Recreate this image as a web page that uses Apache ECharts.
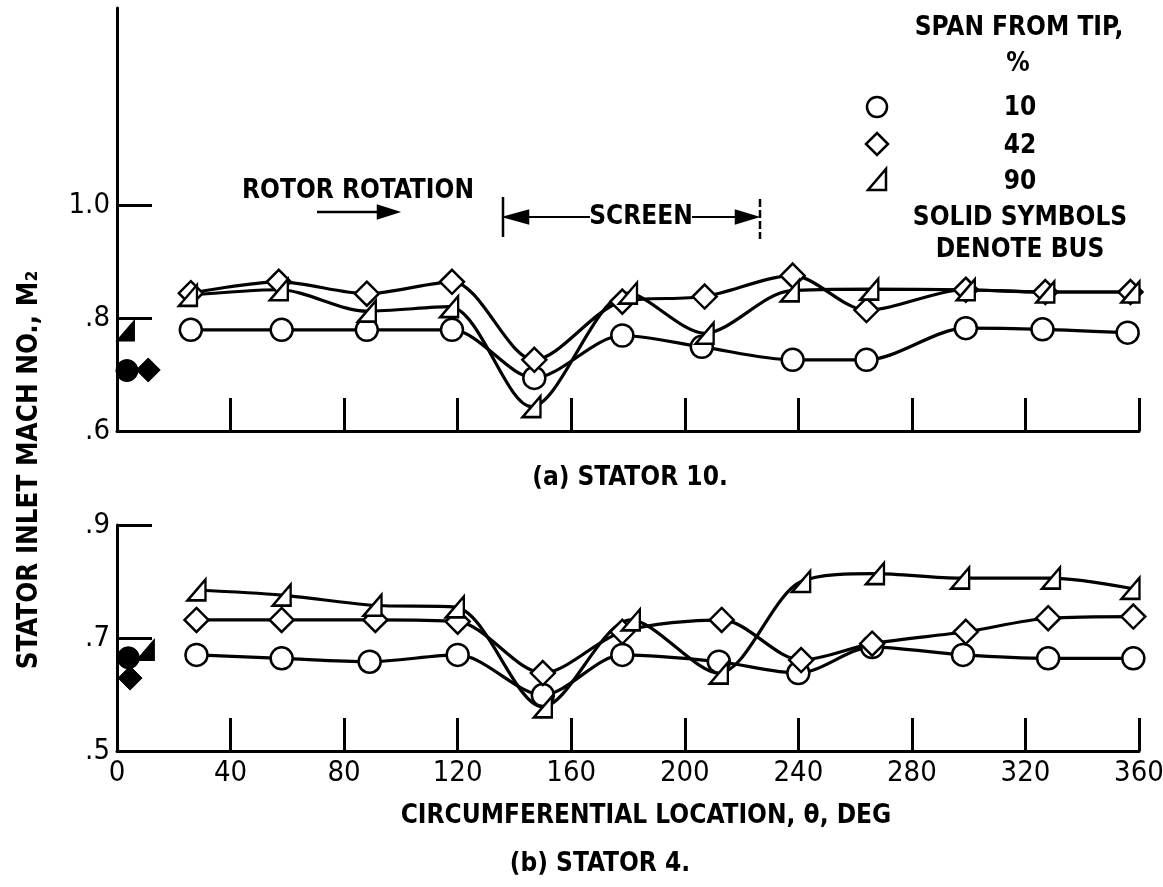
<!DOCTYPE html>
<html><head><meta charset="utf-8">
<script src="https://cdn.jsdelivr.net/npm/echarts@6/dist/echarts.min.js"></script>
<style>html,body{margin:0;padding:0;background:#fff}#c{width:1163px;height:887px}</style>
</head><body><div id="c"></div>
<script>
// ---------- tick labels ----------
const thetaTicks = [0, 40, 80, 120, 160, 200, 240, 280, 320, 360];
const yTicksA = [0.6, 0.8, 1.0];
const yTicksB = [0.5, 0.7, 0.9];
const spanLabels = ['10', '42', '90'];

// ---------- (a) STATOR 10 ----------
const a10Theta = [26, 58, 88, 118, 147, 178, 206, 238, 264, 299, 326, 356];
const a10Mach  = [0.779, 0.779, 0.779, 0.779, 0.694, 0.769, 0.749, 0.726, 0.726, 0.782, 0.780, 0.774];
const a42Theta = [26, 57, 88, 118, 147, 178, 207, 238, 264, 299, 327, 357];
const a42Mach  = [0.844, 0.864, 0.843, 0.864, 0.726, 0.829, 0.838, 0.875, 0.814, 0.850, 0.846, 0.846];
const a90Theta = [25, 57, 88, 117, 146, 180, 207, 237, 265, 299, 327, 357];
const a90Mach  = [0.840, 0.850, 0.812, 0.820, 0.643, 0.844, 0.773, 0.848, 0.851, 0.850, 0.846, 0.846];
const aBus10 = [3.5, 0.707];
const aBus42 = [11, 0.708];
const aBus90 = [3, 0.778];

// ---------- (b) STATOR 4 ----------
const b10Theta = [28, 58, 89, 120, 150, 178, 212, 240, 266, 298, 328, 358];
const b10Mach  = [0.670, 0.664, 0.658, 0.670, 0.599, 0.670, 0.658, 0.638, 0.684, 0.670, 0.664, 0.664];
const b42Theta = [28, 58, 91, 120, 150, 178, 213, 241, 266, 299, 328, 358];
const b42Mach  = [0.732, 0.732, 0.732, 0.729, 0.638, 0.711, 0.732, 0.661, 0.690, 0.711, 0.735, 0.738];
const b90Theta = [28, 58, 90, 119, 150, 181, 212, 241, 267, 297, 329, 357];
const b90Mach  = [0.785, 0.776, 0.758, 0.755, 0.578, 0.732, 0.638, 0.800, 0.814, 0.806, 0.806, 0.788];
const bBus10 = [4, 0.665];
const bBus42 = [4.6, 0.629];
const bBus90 = [10, 0.679];

// ---------- styling ----------
const FONT = "'DejaVu Sans Condensed', 'DejaVu Sans', sans-serif";
const FS = 26;
const TRI = 'path://M20,0 L20,22 L0,22 Z';
const SYM = { c: ['circle', 22], d: ['diamond', 24], t: [TRI, [18, 21]] };
const zip = (xs, ys) => xs.map((x, i) => [x, ys[i]]);
const yFmt = v => { const s = (+v).toFixed(1); return s[0] === '0' ? s.slice(1) : s; };

function lineSeries(xs, ys, k, gi) {
  return {
    type: 'line', xAxisIndex: gi, yAxisIndex: gi, data: zip(xs, ys),
    smooth: 0.3, symbol: SYM[k][0], symbolSize: SYM[k][1], showSymbol: true,
    lineStyle: { color: '#000', width: 3.2 },
    itemStyle: { color: '#fff', borderColor: '#000', borderWidth: 2.5 },
    z: 3
  };
}
function busSeries(pt, k, gi) {
  return {
    type: 'scatter', xAxisIndex: gi, yAxisIndex: gi, data: [pt],
    symbol: SYM[k][0], symbolSize: SYM[k][1],
    itemStyle: { color: '#000', borderColor: '#000', borderWidth: 1, opacity: 1 }, z: 4
  };
}
const axLine = { show: true, onZero: false, lineStyle: { color: '#000', width: 3 } };
const tickStyle = { color: '#000', width: 3 };
const lblStyle = { color: '#000', fontSize: 29, fontFamily: FONT };

const chart = echarts.init(document.getElementById('c'), null, { renderer: 'canvas' });

const txt = (text, x, y, rot, fs) => ({
  type: 'text', x, y, z: 10, rotation: rot || 0,
  style: { text, fill: '#000', fontSize: fs || FS, fontWeight: 'bold', fontFamily: FONT, align: 'center', verticalAlign: 'middle' }
});
const seg = (x1, y1, x2, y2, w, dash) => ({
  type: 'line', z: 10, shape: { x1, y1, x2, y2 },
  style: { stroke: '#000', lineWidth: w || 2.5, lineDash: dash || null }
});
const poly = (pts, fill) => ({ type: 'polygon', z: 10, shape: { points: pts }, style: { fill: fill ? '#000' : '#fff', stroke: '#000', lineWidth: 2.5 } });

const legendX = 877, legendTextX = 1020, legendYs = [107, 144, 180];

chart.setOption({
  animation: false,
  backgroundColor: '#fff',
  grid: [
    { left: 117, right: 24, top: 8, height: 423, containLabel: false, outerBoundsMode: 'none' },
    { left: 117, right: 24, top: 525, height: 226, containLabel: false, outerBoundsMode: 'none' }
  ],
  xAxis: [
    { gridIndex: 0, type: 'value', min: 0, max: 360, interval: 40,
      axisLine: axLine, splitLine: { show: false },
      axisTick: { show: true, inside: true, length: 33, lineStyle: tickStyle, customValues: thetaTicks.slice(1) },
      axisLabel: { show: false } },
    { gridIndex: 1, type: 'value', min: 0, max: 360, interval: 40,
      axisLine: axLine, splitLine: { show: false },
      axisTick: { show: true, inside: true, length: 33, lineStyle: tickStyle, customValues: thetaTicks.slice(1) },
      axisLabel: Object.assign({ margin: 8, customValues: thetaTicks, formatter: v => String(v), hideOverlap: false }, lblStyle) }
  ],
  yAxis: [
    { gridIndex: 0, type: 'value', min: 0.6, max: 1.3487,
      axisLine: axLine, splitLine: { show: false },
      axisTick: { show: true, inside: true, length: 35, lineStyle: tickStyle, customValues: yTicksA.slice(1) },
      axisLabel: Object.assign({ margin: 7, customValues: yTicksA, formatter: yFmt }, lblStyle) },
    { gridIndex: 1, type: 'value', min: 0.5, max: 0.9,
      axisLine: axLine, splitLine: { show: false },
      axisTick: { show: true, inside: true, length: 35, lineStyle: tickStyle, customValues: yTicksB.slice(1) },
      axisLabel: Object.assign({ margin: 7, customValues: yTicksB, formatter: yFmt }, lblStyle) }
  ],
  series: [
    lineSeries(a10Theta, a10Mach, 'c', 0),
    lineSeries(a42Theta, a42Mach, 'd', 0),
    lineSeries(a90Theta, a90Mach, 't', 0),
    busSeries(aBus10, 'c', 0), busSeries(aBus42, 'd', 0), busSeries(aBus90, 't', 0),
    lineSeries(b10Theta, b10Mach, 'c', 1),
    lineSeries(b42Theta, b42Mach, 'd', 1),
    lineSeries(b90Theta, b90Mach, 't', 1),
    busSeries(bBus10, 'c', 1), busSeries(bBus42, 'd', 1), busSeries(bBus90, 't', 1)
  ],
  graphic: [
    // y-axis title
    txt('STATOR INLET MACH NO., M\u2082', 30, 470, Math.PI / 2, 27.5),
    // rotor rotation
    txt('ROTOR ROTATION', 358, 191),
    seg(317, 212, 382, 212, 2.5),
    poly([[397, 212], [378, 206], [378, 218]], true),
    // screen
    seg(503, 197, 503, 237, 2.5),
    poly([[506, 217], [528, 211], [528, 223]], true),
    seg(528, 217, 590, 217, 2),
    txt('SCREEN', 641, 217),
    seg(692, 217, 738, 217, 2),
    poly([[756, 217], [736, 211], [736, 223]], true),
    seg(760, 199, 760, 239, 2.5, [8, 3]),
    // legend
    txt('SPAN FROM TIP,', 1019, 28),
    txt('%', 1018, 64),
    { type: 'circle', z: 10, shape: { cx: legendX, cy: legendYs[0], r: 10 }, style: { fill: '#fff', stroke: '#000', lineWidth: 2.5 } },
    poly([[legendX, legendYs[1] - 11], [legendX + 11, legendYs[1]], [legendX, legendYs[1] + 11], [legendX - 11, legendYs[1]]], false),
    poly([[legendX + 9, legendYs[2] - 11], [legendX + 9, legendYs[2] + 10], [legendX - 9, legendYs[2] + 10]], false),
    txt(spanLabels[0], legendTextX, legendYs[0] + 1),
    txt(spanLabels[1], legendTextX, legendYs[1] + 2),
    txt(spanLabels[2], legendTextX, legendYs[2] + 2),
    txt('SOLID SYMBOLS', 1020, 218),
    txt('DENOTE BUS', 1020, 250),
    // captions
    txt('(a) STATOR 10.', 630, 478),
    txt('CIRCUMFERENTIAL LOCATION, \u03b8, DEG', 646, 816),
    txt('(b) STATOR 4.', 600, 864)
  ]
});
</script></body></html>
